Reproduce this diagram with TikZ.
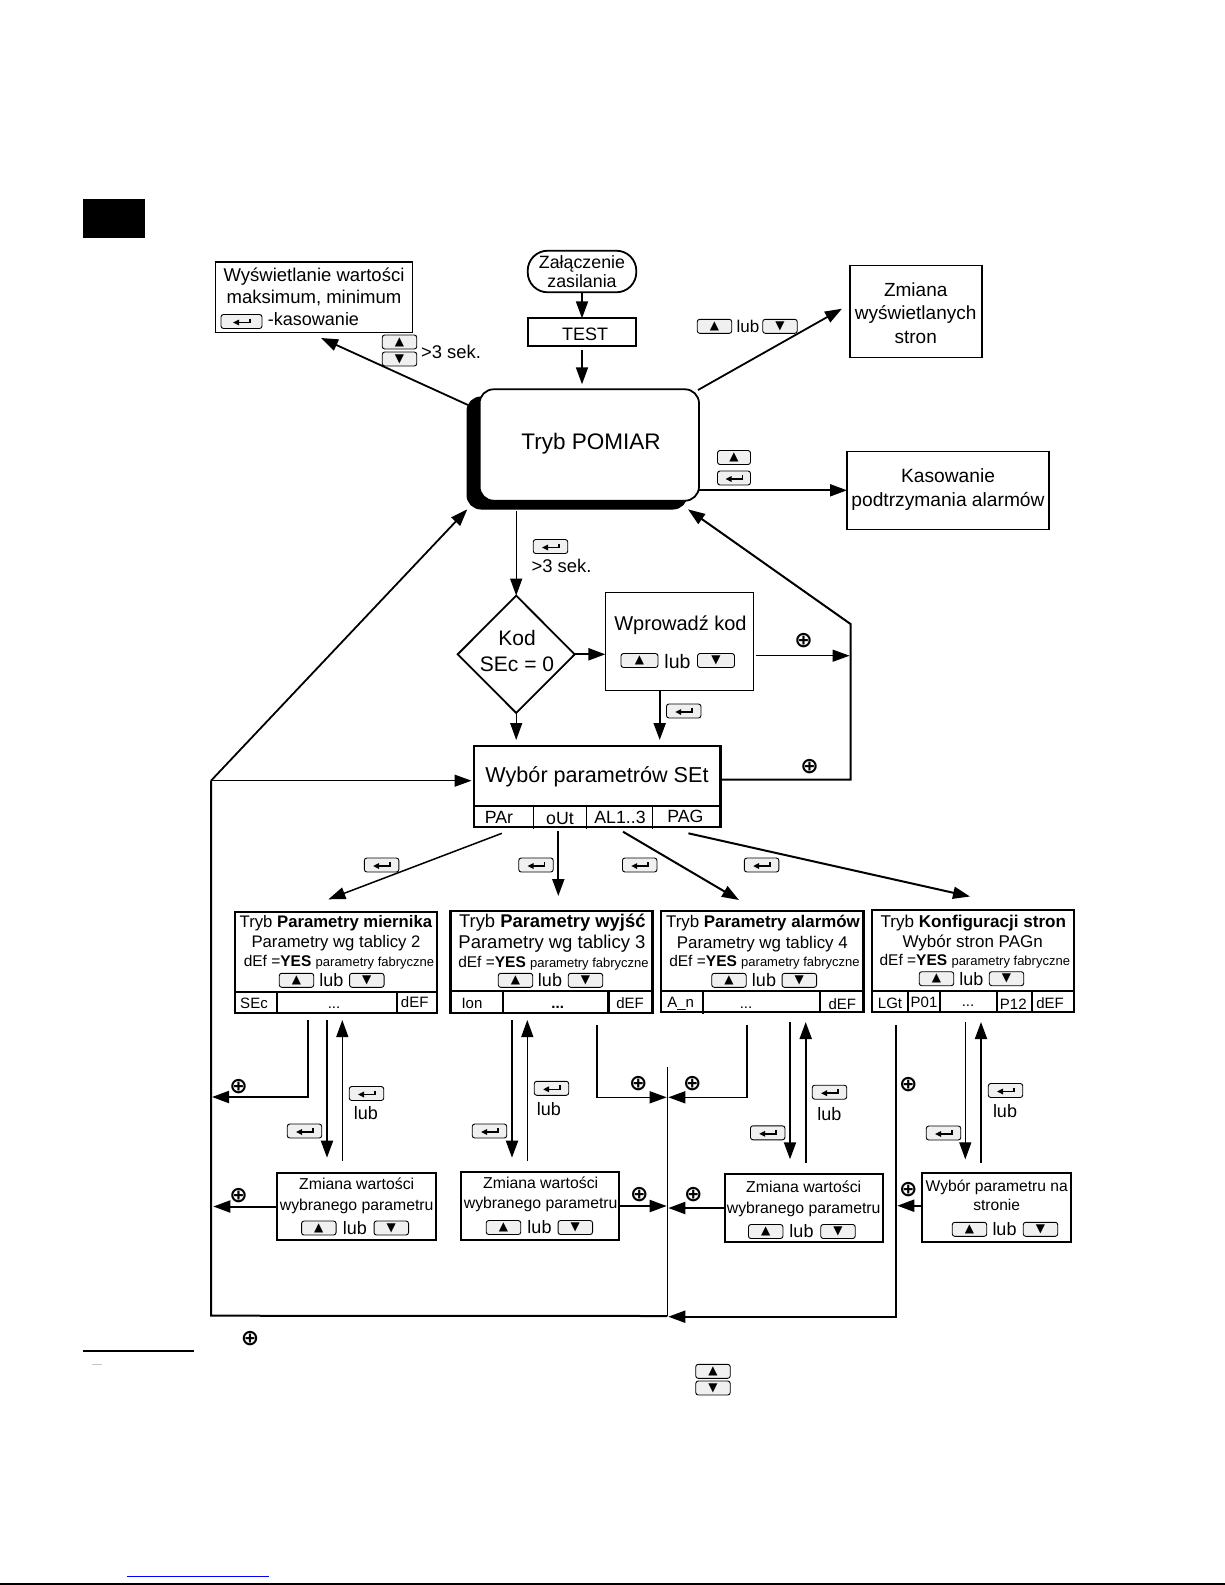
\documentclass[tikz,border=0pt]{standalone}
\usepackage{fontspec}
\setmainfont{Liberation Sans}
\newfontfamily\symfont{DejaVu Sans}
\usetikzlibrary{arrows.meta,shapes.geometric}

\tikzset{
  lab/.style={font=\fontsize{#1}{#1}\selectfont,anchor=base,yshift=-.36*#1 pt,inner sep=0,outer sep=0},
  cell/.style={draw,inner sep=0,outer sep=0,line width=#1},
  keybox/.style={draw,fill=gray!12,rounded corners=2.5pt,inner sep=0,outer sep=0,minimum height=14pt,line width=.9pt},
  entermark/.style={line width=1.5pt,-{Triangle[length=6pt,width=5.5pt]}},
  arr/.style={line width=#1,-{Triangle[length=17pt,width=12pt]}},
  arr/.default=1.5pt,
  xorsign/.style={font=\symfont\bfseries\fontsize{22}{22}\selectfont,inner sep=0,outer sep=0}
}
\newcommand{\upkey}[4][34.5]{\node (#2) at (#3,#4)[keybox,minimum width=#1pt]{\symfont\fontsize{12}{12}\selectfont ▲};}
\newcommand{\downkey}[4][34.5]{\node (#2) at (#3,#4)[keybox,minimum width=#1pt]{\symfont\fontsize{12}{12}\selectfont ▼};}
\newcommand{\enterkey}[4][34.5]{\node (#2) at (#3,#4)[keybox,minimum width=#1pt]{};
\draw[entermark] (#2.center) ++(8.5,-3) -- ++(0,4) -- ++(-17,0);}

\begin{document}
\begin{tikzpicture}[x=1pt,y=-1pt]
\useasboundingbox (0,0) rectangle (1225,1585);

\fill (83,199) rectangle (145,238);

\node (wysw) at (314,297.3)[cell=1.2pt,minimum width=197.4pt,minimum height=70.7pt]{};
\node (wyswa) at (314,275)[lab=18.5]{Wyświetlanie wartości};
\node (wyswb) at (314,297)[lab=18.5]{maksimum, minimum};
\enterkey[41]{wyswkey}{241.5}{321.5}
\node (wyswc) at (313.5,319)[lab=18]{-kasowanie};

\node (pill) at (582,271.5)[cell=1.8pt,minimum width=108.6pt,minimum height=41.6pt,rounded corners=20pt]{};
\node (pilla) at (582,262)[lab=17.8]{Załączenie};
\node (pillb) at (582,281)[lab=17.8]{zasilania};
\node (test) at (582,332.2)[cell=2.2pt,minimum width=108.6pt,minimum height=27.7pt]{};
\node (testa) at (585,334)[lab=18]{TEST};

\node (zmstr) at (916,311.3)[cell=1.2pt,minimum width=132pt,minimum height=92pt]{};
\node (zmstra) at (915.7,290)[lab=19]{Zmiana};
\node (zmstrb) at (915.7,313)[lab=19]{wyświetlanych};
\node (zmstrc) at (915.7,336.7)[lab=19]{stron};

\node (kas) at (948,490.3)[cell=1.2pt,minimum width=202pt,minimum height=78pt]{};
\node (kasa) at (948,475.7)[lab=19.2]{Kasowanie};
\node (kasb) at (948,500)[lab=19.2]{podtrzymania alarmów};

\node (pomiarcien) at (577,453)[cell=1pt,fill=black,minimum width=220pt,minimum height=112pt,rounded corners=14pt]{};
\node (pomiar) at (589.3,445)[cell=1.8pt,fill=white,minimum width=219.4pt,minimum height=111.4pt,rounded corners=14pt]{};
\node (pomiara) at (591,441.7)[lab=22.5]{Tryb POMIAR};

\upkey{key1}{399.5}{342}
\downkey{key2}{399.5}{359}
\node (sek1) at (451,352)[lab=18.4]{>3 sek.};
\upkey{key3}{714.5}{326.3}
\node (lub0) at (748,326)[lab=17]{lub};
\downkey{key4}{780}{326.3}
\upkey[33]{key5}{734}{457.5}
\enterkey[33]{key6}{734}{478}
\enterkey{key7}{550.5}{546.5}
\node (sek2) at (561.5,565.7)[lab=18.4]{>3 sek.};

\node (kod) at (516.2,654.3)[cell=1.8pt,diamond,minimum width=117pt,minimum height=117.3pt]{};
\node (koda) at (517,638)[lab=21]{Kod};
\node (kodb) at (517,664)[lab=21]{SEc = 0};

\node (wpr) at (679.5,641.3)[cell=1.2pt,minimum width=148.2pt,minimum height=98pt]{};
\node (wpra) at (680.5,623.3)[lab=20]{Wprowadź kod};
\upkey[37]{key8}{639.5}{660.5}
\node (lub1) at (677.5,661)[lab=19.5]{lub};
\downkey[37]{key9}{716}{660.5}
\enterkey{key10}{683.7}{711}

\node (set) at (597.2,786.5)[cell=2.5pt,minimum width=246.4pt,minimum height=81pt]{};
\node (seta) at (597,775)[lab=21.6]{Wybór parametrów SEt};
\draw[line width=2pt] (474,806.3) -- (720.4,806.3);
\draw[line width=1pt] (533.4,806.3) -- (533.4,829);
\draw[line width=1pt] (586.5,806.3) -- (586.5,829);
\draw[line width=1pt] (652.6,806.3) -- (652.6,829);
\node (setb) at (499,816.7)[lab=17.7]{PAr};
\node (setc) at (560,817.7)[lab=17.7]{oUt};
\node (setd) at (620,816.7)[lab=17.7]{AL1..3};
\node (sete) at (685.4,815.7)[lab=17.7]{PAG};

\enterkey{key11}{381.6}{865}
\enterkey{key12}{536}{865}
\enterkey{key13}{639.7}{865}
\enterkey{key14}{761.6}{865}

\node (box1) at (336,962.5)[cell=2pt,minimum width=202pt,minimum height=101pt]{};
\node (box1a) at (336,921.7)[lab=16.7]{Tryb \textbf{Parametry miernika}};
\node (box1b) at (336,941.7)[lab=16.7]{Parametry wg tablicy 2};
\node (box1c) at (339,960.7)[lab=15.5]{dEf =\textbf{YES} {\fontsize{13}{13}\selectfont parametry fabryczne}};
\upkey{key15}{296.5}{980.3}
\node (lub2) at (331.3,980.5)[lab=18]{lub};
\downkey{key16}{366.8}{980.3}
\draw[line width=2pt] (235,992) -- (437,992);
\draw[line width=2pt] (276.7,992) -- (276.7,1013);
\draw[line width=2pt] (397,992) -- (397,1013);
\node (box1d) at (254,1002.7)[lab=15]{SEc};
\node (box1e) at (334,1003)[lab=15]{...};
\node (box1f) at (414.7,1001.7)[lab=15]{dEF};

\node (box2) at (551.5,962)[cell=2.6pt,minimum width=201.6pt,minimum height=102pt]{};
\node (box2a) at (552.3,921)[lab=18.4]{Tryb \textbf{Parametry wyjść}};
\node (box2b) at (552,942.3)[lab=18.5]{Parametry wg tablicy 3};
\node (box2c) at (553.5,962)[lab=15.5]{dEf =\textbf{YES} {\fontsize{13}{13}\selectfont parametry fabryczne}};
\upkey{key17}{515.5}{980.3}
\node (lub3) at (550,980.5)[lab=18]{lub};
\downkey{key18}{585.5}{980.3}
\draw[line width=2.5pt] (450.7,991) -- (652.3,991);
\draw[line width=2.5pt] (503,991) -- (503,1013);
\draw[line width=2.5pt] (608.7,991) -- (608.7,1013);
\node (box2d) at (472,1002.7)[lab=15]{Ion};
\node (box2e) at (557.7,1003)[lab=15]{\textbf{...}};
\node (box2f) at (630,1002.7)[lab=15]{dEF};

\node (box3) at (762.2,961.5)[cell=2.3pt,minimum width=202.3pt,minimum height=101pt]{};
\node (box3a) at (763,921.7)[lab=16.9]{Tryb \textbf{Parametry alarmów}};
\node (box3b) at (762.3,942.3)[lab=16.9]{Parametry wg tablicy 4};
\node (box3c) at (764.5,961)[lab=15.5]{dEf =\textbf{YES} {\fontsize{13}{13}\selectfont parametry fabryczne}};
\upkey{key19}{729}{980.3}
\node (lub4) at (764,980.5)[lab=18]{lub};
\downkey{key20}{799.3}{980.3}
\draw[line width=2.3pt] (661,991.3) -- (863.3,991.3);
\draw[line width=2pt] (703,991.3) -- (703,1014);
\draw[line width=2pt] (820,991.3) -- (820,1012);
\node (box3d) at (680.7,1001.7)[lab=15]{A\_n};
\node (box3e) at (746,1003)[lab=15]{...};
\node (box3f) at (842.3,1003.7)[lab=15]{dEF};

\node (box4) at (972.9,961)[cell=2.3pt,minimum width=202.3pt,minimum height=102pt]{};
\node (box4a) at (973.3,921.7)[lab=17.1]{Tryb \textbf{Konfiguracji stron}};
\node (box4b) at (972.7,941.3)[lab=17]{Wybór stron PAGn};
\node (box4c) at (974.8,959.7)[lab=15.5]{dEf =\textbf{YES} {\fontsize{13}{13}\selectfont parametry fabryczne}};
\upkey{key21}{936.5}{978.7}
\node (lub5) at (971.3,979)[lab=18]{lub};
\downkey{key22}{1006.5}{978.7}
\draw[line width=2.3pt] (871.7,991.3) -- (1074,991.3);
\draw[line width=2pt] (907.7,991.3) -- (907.7,1012);
\draw[line width=2pt] (940.3,991.3) -- (940.3,1012);
\draw[line width=2pt] (997,991.3) -- (997,1012);
\draw[line width=2pt] (1032.3,991.3) -- (1032.3,1012);
\node (box4d) at (890,1002.7)[lab=15]{LGt};
\node (box4e) at (924,1001.7)[lab=15]{P01};
\node (box4f) at (968,1001)[lab=15]{...};
\node (box4g) at (1013.3,1003.7)[lab=15]{P12};
\node (box4h) at (1050,1002.7)[lab=15]{dEF};

\enterkey{key23}{366.5}{1093.5}
\node (lub6) at (366,1112.7)[lab=18]{lub};
\enterkey{key24}{304.5}{1131}
\enterkey{key25}{551.5}{1088.3}
\node (lub7) at (549,1109)[lab=18]{lub};
\enterkey{key26}{489.5}{1131}
\enterkey{key27}{829.5}{1092.2}
\node (lub8) at (829.3,1113.7)[lab=18]{lub};
\enterkey{key28}{767.7}{1132.8}
\enterkey{key29}{1005.5}{1090.5}
\node (lub9) at (1005,1111)[lab=18]{lub};
\enterkey{key30}{943.5}{1133}

\node (zm1) at (356.4,1206.5)[cell=1.8pt,minimum width=158.7pt,minimum height=67.6pt]{};
\node (zm1a) at (356.7,1184)[lab=15.8]{Zmiana wartości};
\node (zm1b) at (356.7,1204.3)[lab=15.8]{wybranego parametru};
\upkey{key31}{318.8}{1228}
\node (lub10) at (354.8,1228)[lab=18]{lub};
\downkey{key32}{391.3}{1228}

\node (zm2) at (539.9,1206)[cell=2.2pt,minimum width=158.3pt,minimum height=68pt]{};
\node (zm2a) at (540.7,1182.7)[lab=15.8]{Zmiana wartości};
\node (zm2b) at (540.7,1202.7)[lab=15.8]{wybranego parametru};
\upkey{key33}{503.5}{1227.5}
\node (lub11) at (539.5,1227.5)[lab=18]{lub};
\downkey{key34}{575.3}{1227.5}

\node (zm3) at (804,1208)[cell=2.2pt,minimum width=158.6pt,minimum height=68pt]{};
\node (zm3a) at (803.7,1187)[lab=15.8]{Zmiana wartości};
\node (zm3b) at (803.7,1207.3)[lab=15.8]{wybranego parametru};
\upkey{key35}{765.7}{1231.5}
\node (lub12) at (801.5,1231.5)[lab=18]{lub};
\downkey{key36}{838}{1231.5}

\node (wyb) at (996.5,1207.4)[cell=2.2pt,minimum width=149.6pt,minimum height=69.3pt]{};
\node (wyba) at (996.7,1186.3)[lab=15.6]{Wybór parametru na};
\node (wybb) at (996.7,1205)[lab=15.6]{stronie};
\upkey{key37}{969.5}{1229.3}
\node (lub13) at (1004.5,1229.3)[lab=18]{lub};
\downkey{key38}{1040.5}{1229.3}

\node (xor1) at (803.7,641)[xorsign]{⊕};
\node (xor2) at (809.6,766.7)[xorsign]{⊕};
\node (xor3) at (238.7,1087)[xorsign]{⊕};
\node (xor4) at (238.7,1196)[xorsign]{⊕};
\node (xor5) at (638.3,1084)[xorsign]{⊕};
\node (xor6) at (639.3,1195)[xorsign]{⊕};
\node (xor7) at (692.3,1084)[xorsign]{⊕};
\node (xor8) at (693.3,1195)[xorsign]{⊕};
\node (xor9) at (908.3,1085)[xorsign]{⊕};
\node (xor10) at (908.3,1189.7)[xorsign]{⊕};
\node (xor11) at (250,1339)[xorsign]{⊕};

\coordinate (wyswin) at (321,338);
\coordinate (pomiarnw) at (468,405);
\coordinate (pomiarne) at (698,390);
\coordinate (zmstrin) at (842,308.7);
\coordinate (pomiarsw) at (467.3,509.3);
\coordinate (pomiarse) at (688,509.3);
\coordinate (busin) at (849.6,655.7);
\coordinate (busdn) at (850.5,779.7);
\coordinate (bustop) at (850.5,624);
\coordinate (wprdn) at (659.7,690.3);
\coordinate (lefttop) at (211,780.7);
\coordinate (leftbot) at (211,1315.7);
\coordinate (midtop) at (667.3,1067);
\coordinate (midbot) at (667.3,1316);
\coordinate (left1) at (212,1097);
\coordinate (left2) at (213.3,1206.5);
\coordinate (midl1) at (666.7,1097.3);
\coordinate (midl2) at (666.7,1206);
\coordinate (midr1) at (668.3,1097.3);
\coordinate (midr2) at (668.3,1208);
\coordinate (midr3) at (668.3,1316.7);
\coordinate (wybin) at (897.3,1205.7);
\coordinate (parout) at (501.9,833.3);
\coordinate (outout) at (558.3,831);
\coordinate (alout) at (623,831.7);
\coordinate (pagout) at (688.4,833.3);
\coordinate (box1in) at (328.4,899.3);
\coordinate (box2in) at (558.3,896);
\coordinate (box3in) at (739,900);
\coordinate (box4in) at (970,896.5);

\draw[arr=1.8pt] (pill) -- (test);
\draw[arr=1.8pt,shorten <=4pt,shorten >=5pt] (test) -- (test |- pomiar.north);
\draw[arr=1.8pt] (pomiarnw) -- (wyswin);
\draw[arr=1.8pt] (pomiarne) -- (zmstrin);
\draw[arr=2pt] (pomiar.east |- kas) -- (kas);
\draw[arr=1.2pt,shorten <=2pt] (kod |- pomiarcien.south) -- (kod.north);
\draw[arr=2.2pt] (kod.east) -- (kod.east -| wpr.west);
\draw[arr=1.2pt,shorten <=2pt] (busin -| wpr.east) -- (busin);
\draw[arr=2.2pt,shorten >=6pt] (wprdn) -- (wprdn |- set.north);
\draw[arr=1.2pt,shorten >=6pt] (kod.south) -- (kod.south |- set.north);
\draw[arr=2pt] (set.east |- busdn) -- (busdn) -- (bustop) -- (pomiarse);
\draw[arr=1.8pt] (lefttop) -- (pomiarsw);
\draw[arr=1.2pt,shorten >=2.5pt] (lefttop) -- (lefttop -| set.west);
\draw[line width=2pt] (lefttop) -- (leftbot) -- (midbot);
\draw[line width=1.2pt] (midtop) -- (midbot);

\draw[arr=1.5pt] (parout) -- (box1in);
\draw[arr=2pt] (outout) -- (box2in);
\draw[arr=2pt] (alout) -- (box3in);
\draw[arr=2pt] (pagout) -- (box4in);

\draw[arr=2pt,shorten <=7pt,shorten >=15pt] ([xshift=-9pt]box1.south) -- ([xshift=-9pt]box1.south |- zm1.north);
\draw[arr=1.2pt,shorten <=12pt,shorten >=7pt] ([xshift=6.3pt]box1.south |- zm1.north) -- ([xshift=6.3pt]box1.south);
\draw[arr=2pt,shorten <=7pt] ([xshift=-28.3pt]box1.south) |- (left1);
\draw[arr=2pt] (zm1.west) -- (left2);

\draw[arr=2pt,shorten <=7pt,shorten >=14.3pt] ([xshift=-39.5pt]box2.south) -- ([xshift=-39.5pt]box2.south |- zm2.north);
\draw[arr=1.2pt,shorten <=11.3pt,shorten >=7pt] ([xshift=-24.2pt]box2.south |- zm2.north) -- ([xshift=-24.2pt]box2.south);
\draw[arr=1.5pt,shorten <=12pt] ([xshift=45.5pt]box2.south) |- (midl1);
\draw[arr=2pt] (zm2.east) -- (midl2);

\draw[arr=1.5pt,shorten <=13pt] ([xshift=-15.2pt]box3.south) |- (midr1);
\draw[arr=2pt,shorten <=10pt,shorten >=14.7pt] ([xshift=27.8pt]box3.south) -- ([xshift=27.8pt]box3.south |- zm3.north);
\draw[arr=2pt,shorten <=11.3pt,shorten >=10pt] ([xshift=43.5pt]box3.south |- zm3.north) -- ([xshift=43.5pt]box3.south);
\draw[arr=2pt] (zm3.west) -- (midr2);

\draw[arr=2pt,shorten <=13pt] ([xshift=-76.9pt]box4.south) |- (midr3);
\draw[arr=1.2pt,shorten <=10pt,shorten >=13.4pt] ([xshift=-7.6pt]box4.south) -- ([xshift=-7.6pt]box4.south |- wyb.north);
\draw[arr=2pt,shorten <=10pt,shorten >=10pt] ([xshift=8.1pt]box4.south |- wyb.north) -- ([xshift=8.1pt]box4.south);
\draw[arr=2.2pt] (wyb.west |- wybin) -- (wybin);

\draw[line width=2pt] (83,1351) -- (194,1351);
\draw[gray!45,line width=1pt] (92,1364) -- (102,1364);
\upkey{key39}{713}{1371.3}
\downkey{key40}{713}{1388}

\draw[blue,line width=1pt] (127,1576) -- (269,1576);
\draw[line width=1.5pt] (0,1584) -- (1225,1584);

\end{tikzpicture}
\end{document}
